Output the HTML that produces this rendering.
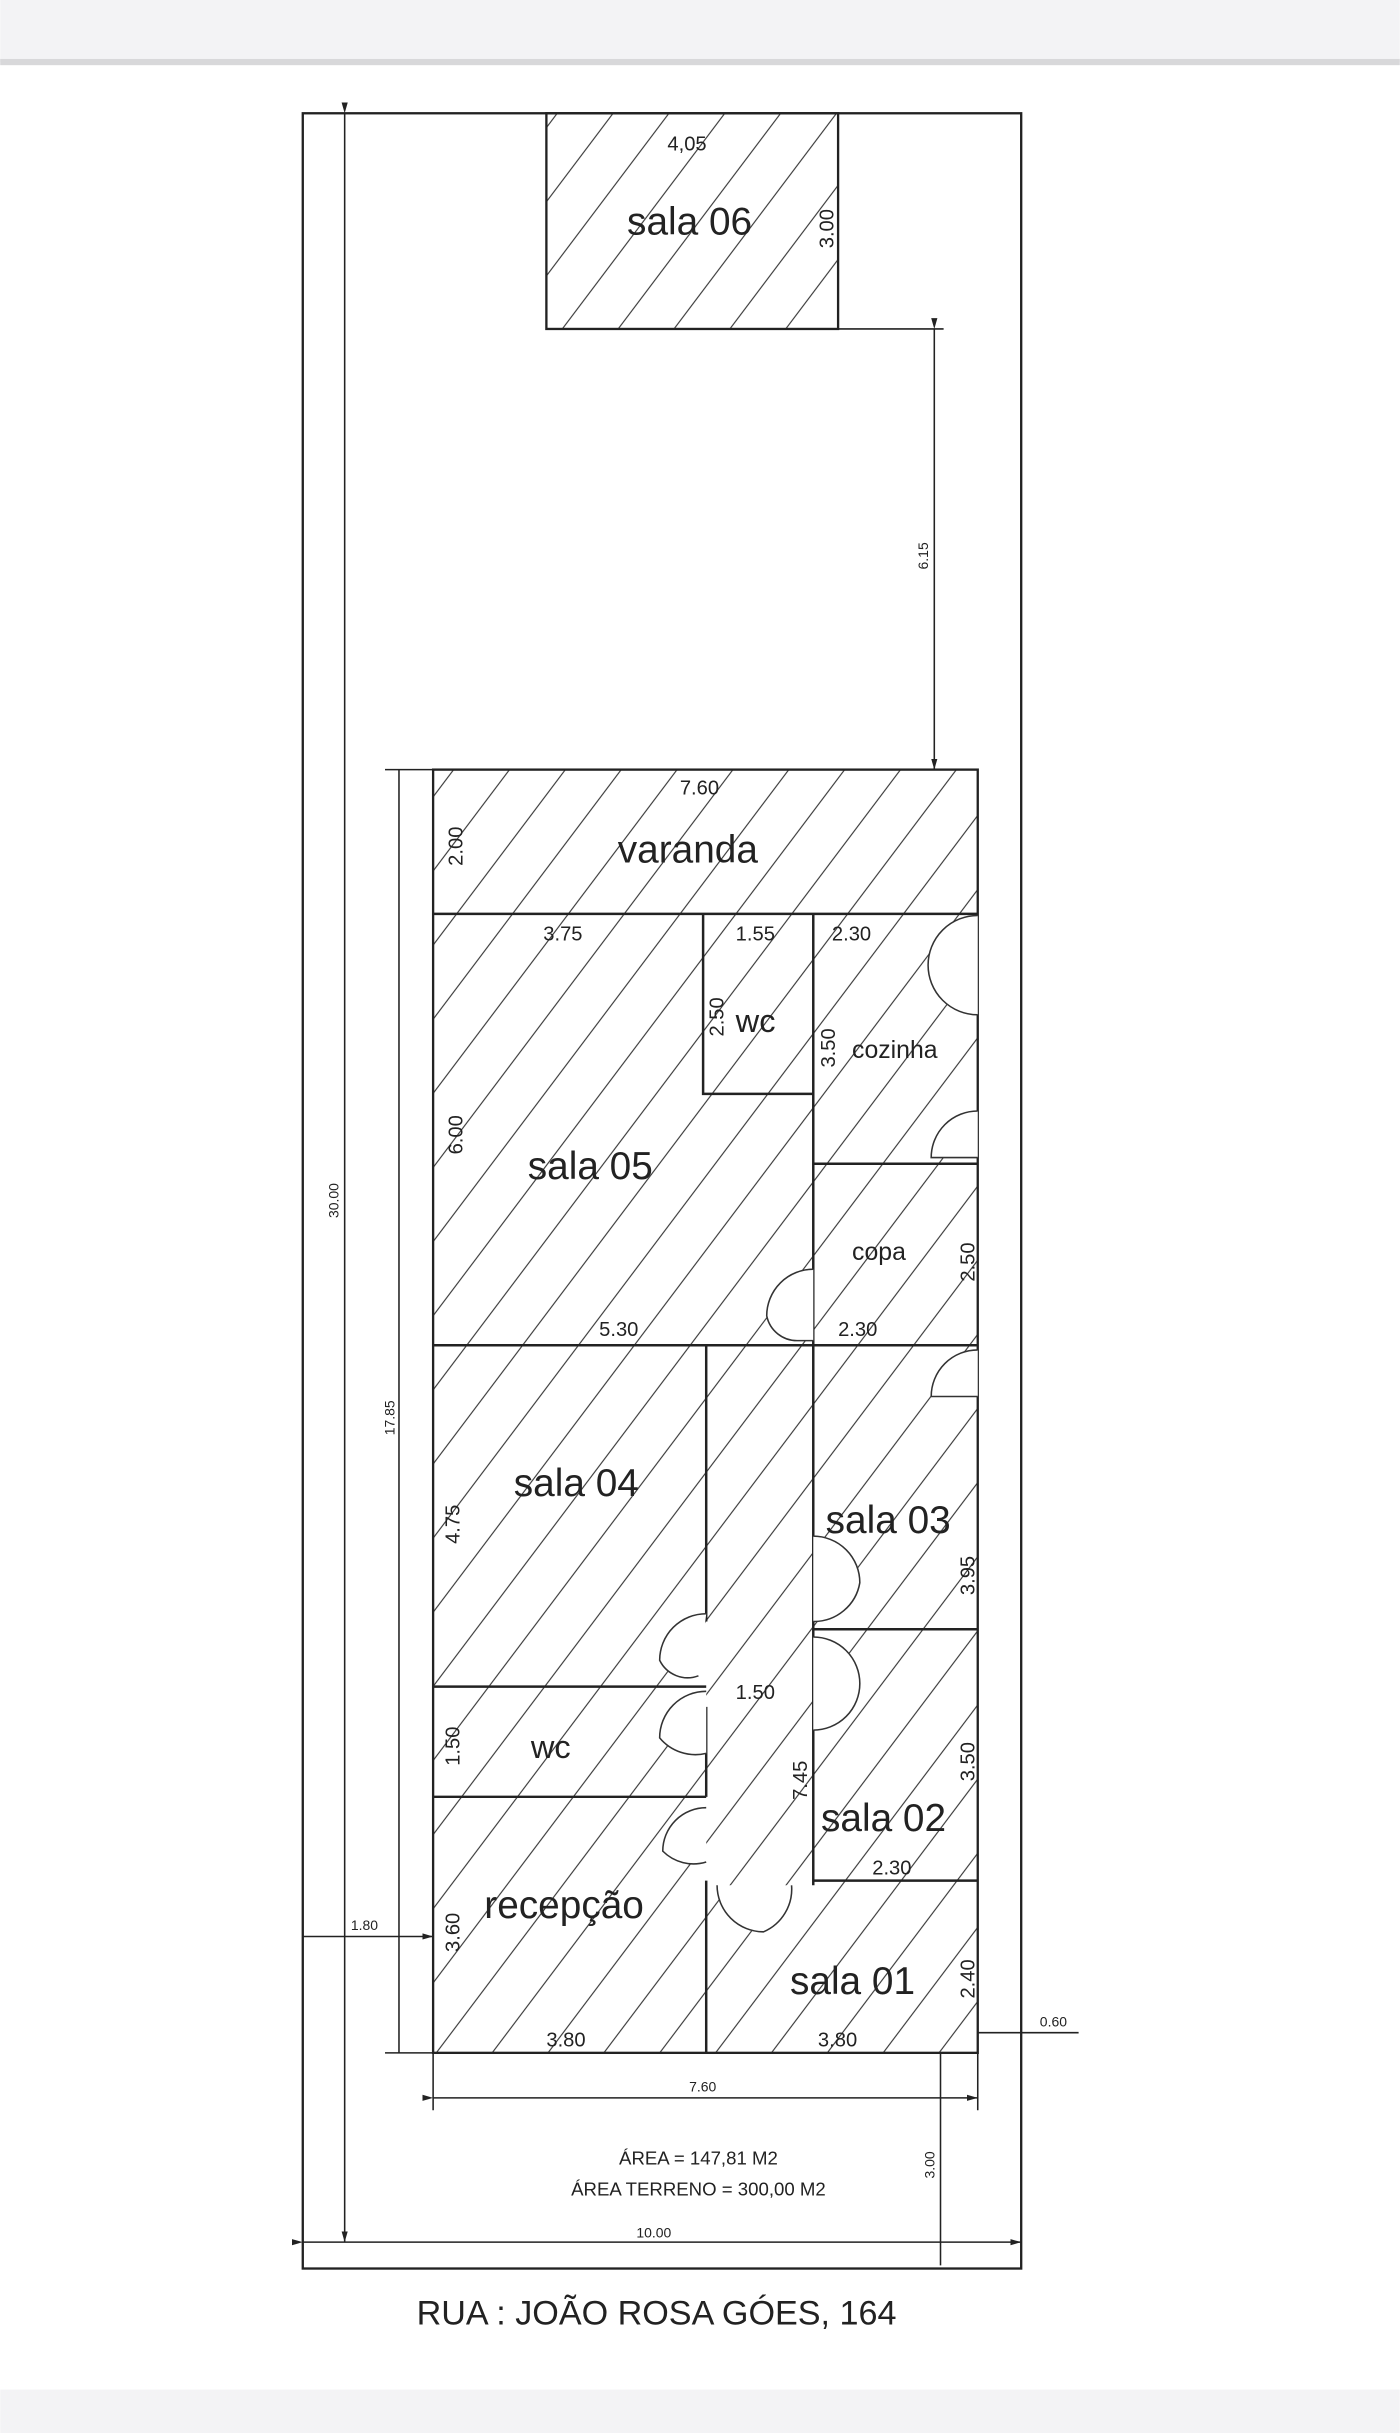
<!DOCTYPE html>
<html><head><meta charset="utf-8"><style>
html,body{margin:0;padding:0;background:#fff}
svg{display:block}
text{font-family:"Liberation Sans",sans-serif;fill:#222}
</style></head><body>
<svg width="1400" height="2433" viewBox="0 0 902 1568" xmlns="http://www.w3.org/2000/svg">
<defs>
<pattern id="h" patternUnits="userSpaceOnUse" width="36" height="60" patternTransform="skewX(-37)">
<line x1="18" y1="0" x2="18" y2="60" stroke="#333" stroke-width="0.9"/>
</pattern>
<marker id="a" markerWidth="8" markerHeight="8" refX="7" refY="4" orient="auto"><path d="M0,2 L7,4 L0,6 z" fill="#222"/></marker>
</defs>
<rect x="0" y="0" width="902" height="40" fill="#f3f3f5"/>
<rect x="0" y="38" width="902" height="4" fill="#d8d8da"/>
<rect x="0" y="1540" width="902" height="28" fill="#f3f3f5"/>
<g stroke="#222" fill="none" stroke-width="1.5">
<rect x="195" y="73" width="463" height="1389"/>
<rect x="352" y="73" width="188" height="139" fill="url(#h)"/>
<rect x="279" y="496" width="351" height="827" fill="url(#h)"/>
</g>
<g stroke="#222" stroke-width="1.6" fill="none">
<line x1="279" y1="589" x2="630" y2="589"/>
<polyline points="453,589 453,705 524,705"/>
<line x1="524" y1="589" x2="524" y2="870"/>
<line x1="524" y1="750" x2="630" y2="750"/>
<line x1="279" y1="867" x2="630" y2="867"/>
<line x1="455" y1="867" x2="455" y2="1045"/>
<line x1="524" y1="867" x2="524" y2="1215"/>
<line x1="524" y1="1050" x2="630" y2="1050"/>
<line x1="279" y1="1087" x2="455" y2="1087"/>
<line x1="279" y1="1158" x2="455" y2="1158"/>
<line x1="455" y1="1100" x2="455" y2="1158"/>
<line x1="524" y1="1212" x2="630" y2="1212"/>
<line x1="455" y1="1212" x2="455" y2="1323"/>
</g>
<g stroke="#333" stroke-width="1" fill="#fff">
<path d="M630,590 A32,32 0 0 0 598,622 A32,32 0 0 0 630,654"/>
<path d="M630,716 A30,30 0 0 0 600,746 L630,746"/>
<path d="M524,818 A30,30 0 0 0 494,848 A20,20 0 0 0 514,864 L524,864"/>
<path d="M630,870 A30,30 0 0 0 600,900 L630,900"/>
<path d="M524,990 A30,30 0 0 1 554,1020 A30,30 0 0 1 524,1045"/>
<path d="M524,1055 A30,30 0 0 1 554,1085 A30,30 0 0 1 524,1115"/>
<path d="M455,1040 A30,30 0 0 0 425,1070 A20,20 0 0 0 450,1080"/>
<path d="M455,1090 A30,30 0 0 0 425,1120 A30,30 0 0 0 455,1130"/>
<path d="M455,1165 A28,28 0 0 0 427,1193 A28,28 0 0 0 455,1200"/>
<path d="M462,1215 A30,30 0 0 0 492,1245 A30,30 0 0 0 510,1215"/>
</g>
<g stroke="#222" stroke-width="1" fill="none">
<line x1="222" y1="73" x2="222" y2="1445" marker-start="url(#a)" marker-end="url(#a)"/>
<line x1="540" y1="212" x2="608" y2="212"/>
<line x1="602" y1="212" x2="602" y2="496" marker-start="url(#a)" marker-end="url(#a)"/>
<line x1="248" y1="496" x2="279" y2="496"/>
<line x1="248" y1="1323" x2="279" y2="1323"/>
<line x1="257" y1="496" x2="257" y2="1323"/>
<line x1="279" y1="1323" x2="279" y2="1360"/>
<line x1="630" y1="1323" x2="630" y2="1360"/>
<line x1="279" y1="1352" x2="630" y2="1352" marker-start="url(#a)" marker-end="url(#a)"/>
<line x1="195" y1="1248" x2="279" y2="1248" marker-end="url(#a)"/>
<line x1="630" y1="1310" x2="695" y2="1310"/>
<line x1="606" y1="1323" x2="606" y2="1460"/>
<line x1="195" y1="1445" x2="658" y2="1445" marker-start="url(#a)" marker-end="url(#a)"/>
</g>
<g font-size="13">
<text x="430" y="97">4,05</text>
<text transform="translate(537,160) rotate(-90)">3.00</text>
<text x="438" y="512">7.60</text>
<text x="350" y="606">3.75</text>
<text x="474" y="606">1.55</text>
<text x="536" y="606">2.30</text>
<text x="386" y="861">5.30</text>
<text x="540" y="861">2.30</text>
<text x="474" y="1095">1.50</text>
<text x="562" y="1208">2.30</text>
<text x="352" y="1319">3.80</text>
<text x="527" y="1319">3.80</text>
<text transform="translate(298,558) rotate(-90)">2.00</text>
<text transform="translate(466,668) rotate(-90)">2.50</text>
<text transform="translate(538,688) rotate(-90)">3.50</text>
<text transform="translate(298,744) rotate(-90)">6.00</text>
<text transform="translate(628,826) rotate(-90)">2.50</text>
<text transform="translate(296,995) rotate(-90)">4.75</text>
<text transform="translate(628,1028) rotate(-90)">3.95</text>
<text transform="translate(296,1138) rotate(-90)">1.50</text>
<text transform="translate(520,1160) rotate(-90)">7.45</text>
<text transform="translate(628,1148) rotate(-90)">3.50</text>
<text transform="translate(296,1258) rotate(-90)">3.60</text>
<text transform="translate(628,1288) rotate(-90)">2.40</text>
</g>
<g font-size="9">
<text transform="translate(218,785) rotate(-90)">30.00</text>
<text transform="translate(254,925) rotate(-90)">17.85</text>
<text transform="translate(598,367) rotate(-90)">6.15</text>
<text transform="translate(602,1404) rotate(-90)">3.00</text>
<text x="226" y="1244">1.80</text>
<text x="670" y="1306">0.60</text>
<text x="444" y="1348">7.60</text>
<text x="410" y="1442">10.00</text>
</g>
<g font-size="25">
<text x="404" y="151">sala 06</text>
<text x="398" y="556">varanda</text>
<text x="340" y="760">sala 05</text>
<text x="331" y="964">sala 04</text>
<text x="532" y="988">sala 03</text>
<text x="529" y="1180">sala 02</text>
<text x="509" y="1285">sala 01</text>
<text x="312" y="1236">recepção</text>
<text x="474" y="665" font-size="21">wc</text>
<text x="342" y="1133" font-size="21">wc</text>
</g>
<text x="549" y="682" font-size="16">cozinha</text>
<text x="549" y="812" font-size="16">copa</text>
<text x="450" y="1395" font-size="12" text-anchor="middle">ÁREA = 147,81 M2</text>
<text x="450" y="1415" font-size="12" text-anchor="middle">ÁREA TERRENO = 300,00 M2</text>
<text x="423" y="1498" font-size="22" text-anchor="middle">RUA : JOÃO ROSA GÓES, 164</text>
</svg>
</body></html>
